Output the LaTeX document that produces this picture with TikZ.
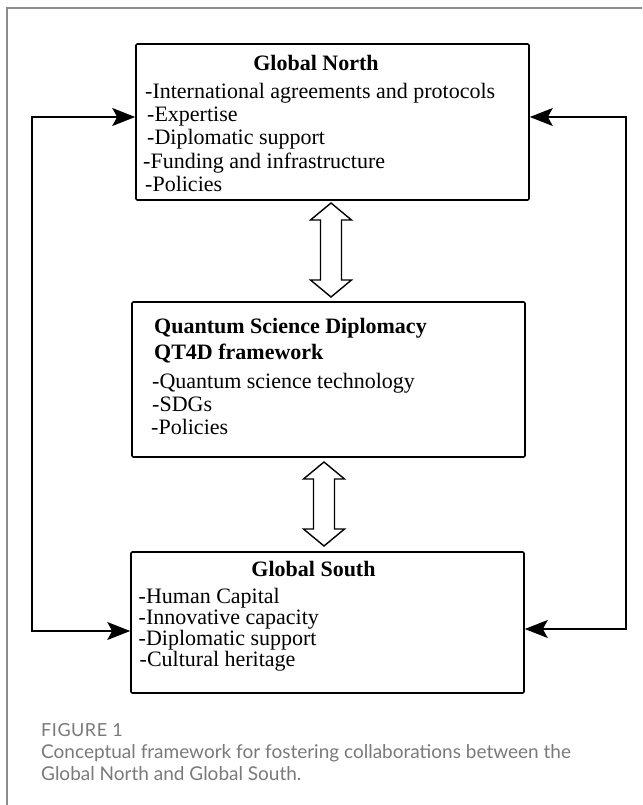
\documentclass[tikz,border=0pt]{standalone}
\usepackage{fontspec}
\setmainfont{Liberation Serif}
\newfontfamily\capfont{Lato}
\newfontfamily\figfont[LetterSpace=3]{Lato}
\usetikzlibrary{arrows.meta}

\definecolor{framegray}{HTML}{8C8C8C}
\definecolor{capgray}{HTML}{7A7A7A}

% hollow two-headed arrow: centre x, top tip y, bottom tip y
\newcommand{\fatarrow}[3]{%
  \draw[fat] (#1,#2) -- ++(20.5,17) -- ++(-10,0) -- ({#1+10.5},{#3-17}) -- ++(10,0)
    -- (#1,#3) -- ++(-20.5,-17) -- ++(10,0) -- ({#1-10.5},{#2+17}) -- ++(-10,0) -- cycle;}

\begin{document}
\begin{tikzpicture}[x=1pt, y=-1pt,
    panel/.style={draw, line width=1.6pt, rounded corners=1.2pt, inner sep=0pt, minimum width=393pt},
    head/.style={font=\fontsize{22}{23}\selectfont\bfseries, inner sep=0pt, anchor=base west},
    item/.style={font=\fontsize{22}{23}\selectfont, inner sep=0pt, anchor=base west},
    link/.style={{Stealth[length=23pt, width=18pt, inset=5pt]}-{Stealth[length=23pt, width=18pt, inset=5pt]}, line width=1.6pt},
    fat/.style={draw, line width=1.4pt, fill=white, line join=miter},
    caption/.style={font=\capfont\fontsize{19}{23}\selectfont, text=capgray, inner sep=0pt, anchor=base west}
]
    \useasboundingbox (0,0) rectangle (642,805);
    \fill[white] (0,0) rectangle (642,805);
    \draw[framegray, line width=1.5pt] (7,805) -- (7,8) -- (642,8);

    % Boxes
    \node[panel, minimum height=156pt] (north) at (332.5,122) {};
    \node[panel, minimum height=155pt] (qsd) at (328.5,379.5) {};
    \node[panel, minimum height=141pt] (south) at (327.5,622.5) {};

    % Texts
    \node[head, anchor=base] (northtitle) at (316,71) {Global North};
    \foreach \t/\x [count=\i] in {-International agreements and protocols/145, -Expertise/147,
        -Diplomatic support/147, -Funding and infrastructure/143, -Policies/145}
        \node[item] (northitem\i) at (\x,{99+23*(\i-1)}) {\t};

    \node[head] (qsdtitle) at (154,333) {Quantum Science Diplomacy};
    \node[head] (qsdsub) at (154,359) {QT4D framework};
    \foreach \t/\x [count=\i] in {-Quantum science technology/152, -SDGs/152, -Policies/151}
        \node[item] (qsditem\i) at (\x,{388+23*(\i-1)}) {\t};

    \node[head, anchor=base] (southtitle) at (313.5,576) {Global South};
    \foreach \t/\x [count=\i] in {-Human Capital/138.5, -Innovative capacity/138.5,
        -Diplomatic support/138.5, -Cultural heritage/139.5}
        \node[item] (southitem\i) at (\x,{603+21*(\i-1)}) {\t};

    % Arrows
    \fatarrow{331}{203}{297}
    \fatarrow{324}{462}{546}
    \draw[link] (north.west |- 0,117) -- (32,117) -- (32,631) -- (south.west |- 0,631);
    \draw[link] (north.east |- 0,117) -- (626,117) -- (626,629) -- (south.east |- 0,629);

    % Caption
    \node[caption, font=\figfont\fontsize{18}{21}\selectfont] (fignum) at (41,736) {FIGURE 1};
    \node[caption] (capline1) at (41,758) {Conceptual framework for fostering collaborations between the};
    \node[caption] (capline2) at (41,780) {Global North and Global South.};
\end{tikzpicture}
\end{document}
